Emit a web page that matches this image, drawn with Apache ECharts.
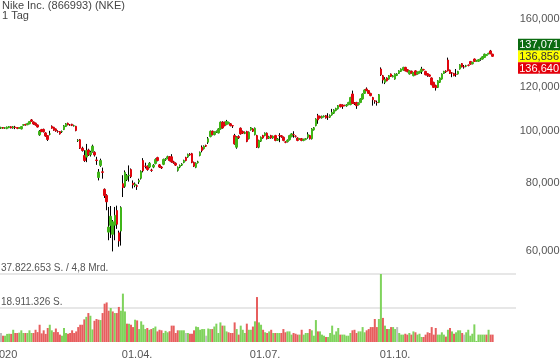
<!DOCTYPE html>
<html><head><meta charset="utf-8">
<script src="https://cdn.jsdelivr.net/npm/echarts@6/dist/echarts.min.js"></script>
<style>html,body{margin:0;padding:0;background:#fff}#c{width:560px;height:363px}</style>
</head><body><div id="c"></div>
<script>
const titleText = 'Nike Inc. (866993) (NKE)';
const subtitleText = '1 Tag';
const startDate = '2019-12-24';
const slotCount = 254;
const holidays = ['2019-12-25','2020-01-01','2020-01-20','2020-02-17','2020-04-10','2020-05-25','2020-07-03','2020-09-07','2020-11-26','2020-12-25'];
const tickDates = ['2019-12-27','2020-04-01','2020-07-01','2020-10-01'];
const tickLabels = ['2020','01.04.','01.07.','01.10.'];
const priceTicks = [60,80,100,120,140,160];
const quoteValues = [137.071,136.856,136.640];
const volumeAxisMax = 37.822653; // Mio. Stück
const volumeLabels = ['37.822.653 S. / 4,8 Mrd.','18.911.326 S.'];

const open = [101.0,101.3,101.0,100.8,101.2,101.6,101.1,101.5,101.3,100.9,100.7,102.3,102.6,102.5,102.9,104.6,103.7,103.2,102.4,98.2,
100.4,100.5,99.0,97.9,98.5,101.8,101.4,100.7,99.6,99.6,99.5,100.4,101.7,103.1,102.4,102.7,102.0,101.8,95.8,96.2,
92.8,90.0,89.4,92.1,90.3,91.5,91.2,88.3,82.0,86.3,84.0,78.0,76.0,65.1,67.0,64.5,67.0,71.3,64.9,65.4,
79.9,79.0,81.3,82.6,84.8,80.0,79.3,79.2,80.5,81.7,88.1,86.0,85.9,85.7,84.6,85.7,87.0,89.2,86.5,85.7,
86.7,88.5,88.9,89.5,89.5,87.6,87.1,84.5,85.7,86.4,87.4,89.2,89.4,90.5,90.7,87.4,85.6,87.3,90.0,93.2,
92.6,93.9,95.2,97.5,99.7,98.3,99.4,99.0,100.7,103.6,103.6,102.6,103.0,102.9,102.1,97.9,93.2,97.5,101.0,99.6,
98.8,99.6,96.6,100.3,100.7,98.3,97.9,93.2,95.6,97.9,97.9,98.9,96.8,97.9,96.9,97.9,96.0,97.9,97.8,97.2,
95.3,95.4,96.2,97.5,98.3,97.6,96.9,96.4,96.6,95.9,96.3,97.2,97.9,96.6,100.3,102.1,106.5,106.2,105.5,106.0,
106.5,105.9,105.8,106.8,107.6,108.8,109.6,111.6,111.4,111.2,111.0,111.6,111.6,116.7,112.4,112.6,111.6,112.6,114.3,117.0,
119.2,118.4,117.0,115.0,113.4,112.6,112.6,129.7,126.1,122.6,124.9,124.3,127.0,125.5,124.3,126.2,127.3,128.4,129.1,130.6,
129.3,127.0,128.5,126.1,128.7,127.0,127.6,128.4,129.4,128.4,127.2,126.5,124.9,122.6,121.0,120.0,122.6,124.3,127.3,128.6,
134.7,129.1,127.6,127.3,126.8,127.0,129.7,132.7,130.9,131.2,131.8,133.9,132.6,135.3,134.2,134.0,135.2,135.3,136.2,137.3,
138.3,140.0,138.1];
const close = [101.3,101.0,101.2,101.5,101.7,101.1,101.6,101.3,100.9,101.2,101.7,102.5,102.4,103.0,103.9,104.0,102.8,102.4,101.5,99.7,
99.6,99.5,97.7,96.3,98.6,101.0,100.1,99.8,99.6,98.6,99.6,102.0,102.9,102.5,102.4,102.2,102.1,100.0,96.0,92.8,
91.9,88.1,91.9,90.2,91.2,93.6,90.2,88.1,83.9,88.1,83.8,76.0,74.0,66.5,69.6,68.0,69.9,67.3,62.7,72.2,
78.6,83.8,82.7,82.8,82.3,79.5,79.8,79.0,81.0,84.1,84.4,86.0,84.8,87.1,84.5,86.4,88.5,88.1,85.7,85.4,
88.5,88.6,89.5,88.1,87.6,87.3,86.4,85.6,86.3,86.8,88.1,88.1,90.4,90.2,87.4,86.0,87.1,87.6,91.2,91.9,
93.6,93.6,96.6,99.7,98.3,99.3,99.6,100.7,103.6,101.1,102.1,103.9,103.5,102.1,102.0,94.5,97.2,97.0,98.6,98.9,
99.2,95.5,99.3,101.2,99.7,101.0,93.2,95.9,97.2,96.9,98.9,96.6,97.4,96.9,97.6,95.9,96.5,97.9,97.4,95.9,
95.2,96.0,97.9,98.6,98.3,97.6,95.9,96.6,95.9,96.2,96.6,98.3,96.6,100.7,101.2,105.0,104.6,105.5,106.2,106.3,
105.5,105.9,106.6,108.0,109.1,109.8,111.1,110.6,110.8,111.2,111.4,112.6,115.0,112.2,112.0,111.1,112.2,114.3,116.7,118.7,
118.4,117.0,115.9,113.9,113.2,112.6,116.4,126.6,123.8,124.3,123.4,126.1,125.7,126.0,127.0,127.0,128.7,129.7,130.6,128.7,
128.2,128.7,127.5,127.8,126.6,128.0,128.4,129.7,129.3,126.6,126.3,125.8,121.4,120.0,119.8,123.4,124.9,127.0,128.4,128.2,
128.7,127.3,127.5,126.1,126.8,128.4,132.0,130.9,130.9,131.5,131.7,132.4,133.4,133.9,134.3,134.9,135.3,136.6,138.1,137.9,
138.6,138.3,136.856];
const high = [101.6,101.5,101.4,101.7,101.9,101.8,101.9,102.0,101.5,101.4,101.9,102.8,102.9,103.3,104.1,105.0,103.9,103.4,102.6,100.2,
100.7,100.8,99.3,98.1,99.9,102.2,101.6,100.9,100.1,99.8,100.0,102.3,103.2,103.4,102.8,102.9,102.5,102.0,96.4,96.5,
93.4,92.0,94.5,92.6,91.8,94.2,91.6,89.5,85.0,88.8,85.5,78.3,76.4,72.4,72.7,68.5,72.4,72.8,65.5,72.6,
82.8,84.5,83.2,86.3,85.2,81.0,80.3,79.6,81.6,84.5,89.0,87.3,86.3,87.5,85.1,86.8,88.9,89.5,86.8,86.0,
88.8,89.0,89.9,89.8,90.5,88.0,87.4,85.9,86.6,87.1,88.4,89.5,90.7,90.9,91.0,87.7,87.4,88.0,91.5,93.9,
93.9,94.2,97.3,100.0,100.0,99.6,100.0,101.0,103.9,104.0,103.8,104.6,103.8,103.2,102.2,98.6,97.6,98.0,101.3,100.0,
99.6,99.9,99.6,101.5,101.0,101.3,98.2,96.2,97.5,98.2,99.2,99.2,97.8,98.2,97.9,98.2,96.9,98.9,98.1,97.5,
95.6,96.3,98.2,98.9,99.7,98.0,97.2,96.9,96.9,96.6,96.9,99.3,98.2,101.0,101.5,105.3,107.3,106.5,106.5,106.6,
106.8,107.6,107.0,109.6,109.4,110.1,111.4,111.9,111.7,111.5,111.8,112.9,115.3,118.4,112.8,112.9,112.6,114.6,117.0,119.0,
120.0,118.7,117.3,115.3,113.7,113.5,116.7,130.6,126.5,125.3,125.2,126.4,127.3,126.4,127.3,127.4,129.0,130.0,130.9,130.9,
129.6,129.0,128.8,128.1,129.0,128.3,128.7,130.9,129.8,128.7,127.5,126.8,125.2,122.9,121.4,123.7,125.2,127.3,128.7,129.0,
136.1,129.4,128.0,127.6,129.7,128.7,132.3,133.0,131.9,132.0,132.2,134.2,133.7,135.6,134.8,135.2,136.0,136.9,138.4,138.2,
138.9,140.6,138.3];
const low = [100.7,100.8,100.7,100.6,101.0,100.9,100.8,100.6,100.6,100.7,100.5,102.0,102.1,102.3,102.7,103.8,102.5,102.1,101.3,97.8,
99.3,99.2,97.4,95.7,98.0,100.8,99.9,99.5,99.1,98.3,99.0,100.2,101.5,102.2,102.0,101.9,101.7,99.7,95.3,92.5,
91.5,87.6,87.5,89.8,89.6,91.1,89.6,86.5,81.0,85.8,81.6,75.2,71.4,62.9,63.5,60.0,62.9,66.0,61.2,61.5,
75.5,78.5,80.8,80.6,81.8,78.3,78.7,77.8,79.8,81.3,83.8,85.2,84.4,85.3,84.0,85.3,86.7,87.8,85.4,85.0,
86.4,88.0,88.6,87.8,87.3,86.9,86.1,84.1,85.3,86.1,87.1,87.8,89.1,89.9,87.1,85.7,85.3,87.0,89.7,91.2,
92.3,93.3,94.5,97.2,98.0,98.0,99.0,98.8,100.4,100.8,101.8,102.3,102.7,101.8,101.1,94.2,92.6,96.5,98.3,98.6,
98.5,95.2,96.3,100.0,99.4,98.0,92.9,92.8,95.3,96.6,97.6,96.3,96.5,96.6,96.6,95.6,95.7,95.2,97.0,95.6,
94.8,95.1,95.9,97.2,97.0,97.1,95.6,96.1,95.6,95.6,96.0,96.6,96.3,96.3,100.0,101.8,102.9,105.2,105.2,105.7,
105.2,104.6,105.5,106.5,107.3,108.5,109.3,110.3,109.6,110.8,110.6,111.3,111.3,111.9,111.4,109.6,111.2,112.3,114.0,116.7,
118.1,116.7,115.6,111.1,112.0,111.1,112.3,126.0,122.0,121.7,123.1,124.0,125.4,125.2,124.0,125.9,127.0,128.1,128.8,128.4,
127.9,126.7,127.2,125.8,126.3,126.7,127.3,127.0,128.9,126.3,125.5,125.4,121.1,119.7,118.4,119.7,122.3,124.0,127.0,127.6,
128.4,127.0,125.3,125.8,125.5,126.7,129.4,130.6,129.9,130.7,131.2,132.1,132.3,133.6,133.8,133.7,134.3,135.0,135.9,137.0,
138.0,138.1,136.6];
const volume = [5.0,3.5,3.5,4.5,4.6,4.5,6.8,5.0,5.0,5.2,6.5,5.0,5.0,5.0,6.5,5.0,5.0,6.8,5.5,9.6,
4.8,6.5,4.5,7.8,9.6,6.5,5.5,7.5,5.5,4.1,3.5,7.8,5.0,4.6,5.0,6.5,5.0,5.9,8.3,9.6,
9.6,12.6,14.0,16.1,14.6,7.0,11.8,12.8,12.4,12.2,16.1,21.3,22.0,17.4,18.9,17.0,16.1,16.1,19.5,17.4,
26.9,17.0,10.2,10.2,9.6,8.3,12.4,12.0,7.2,11.5,9.6,7.2,7.8,6.8,7.2,7.8,8.6,5.9,6.8,6.5,
5.0,6.2,5.4,6.0,9.1,9.1,5.0,6.5,6.5,6.5,6.5,5.0,5.0,4.6,4.6,6.5,8.6,8.3,6.8,7.2,
7.2,3.5,7.5,7.2,7.2,8.6,10.2,5.0,10.9,9.1,9.1,5.9,5.4,5.0,5.0,10.9,7.2,4.1,9.1,6.8,
5.0,10.2,6.8,6.8,8.6,11.5,25.0,10.9,9.6,6.8,5.4,5.0,5.9,6.8,5.0,5.0,5.0,5.0,5.0,7.2,
5.4,5.9,5.9,4.1,5.0,4.6,4.1,4.1,6.8,4.1,5.0,5.0,7.2,6.5,3.5,12.2,5.9,5.9,4.1,3.5,
2.8,2.8,5.0,9.1,4.1,5.9,7.8,4.1,4.1,4.1,3.5,3.5,5.0,6.5,6.8,5.0,5.9,5.9,8.3,5.4,
6.5,7.2,8.3,8.3,12.8,8.3,12.8,37.822653,13.4,9.1,7.2,7.2,8.3,8.3,7.2,8.3,5.0,4.1,4.1,4.6,
4.1,5.0,4.1,5.9,5.4,4.1,4.6,2.8,2.8,4.1,5.4,5.0,8.3,4.1,7.8,4.1,4.1,5.4,4.1,3.0,
6.8,7.8,5.9,4.6,5.4,6.5,6.5,5.0,4.1,5.4,6.8,3.5,4.6,9.8,0.6,4.1,4.1,4.1,4.1,4.1,
6.8,4.1,4.1];

const FONT = '"Liberation Sans", Arial, sans-serif';
const UP = '#3fb519', DOWN = '#e1060e', WICK = '#000000';
const VUP = '#7fd35c', VDOWN = '#e75e5e', VFLAT = '#bdbdbd';

// trading-day categories
const dates = [];
{
  const d = new Date(startDate + 'T00:00:00Z');
  while (dates.length < slotCount) {
    const s = d.toISOString().slice(0, 10);
    const wd = d.getUTCDay();
    if (wd !== 0 && wd !== 6 && !holidays.includes(s)) dates.push(s);
    d.setUTCDate(d.getUTCDate() + 1);
  }
}

const wickData = open.map((o, i) => [o, close[i], low[i], high[i]]);
const bodyData = open.map((o, i) => [o, close[i], Math.min(o, close[i]), Math.max(o, close[i])]);
const volData = volume.map((v, i) => {
  let c = VFLAT;
  if (i > 0 && close[i] > close[i - 1]) c = VUP;
  else if (i > 0 && close[i] < close[i - 1]) c = VDOWN;
  return { value: v, itemStyle: { color: c } };
});

const chart = echarts.init(document.getElementById('c'), null, { renderer: 'canvas' });
chart.setOption({
  animation: false,
  backgroundColor: '#fff',
  grid: [
    { left: 0, right: 44, top: 5, height: 267 },
    { left: 0, right: 44, top: 274, height: 68 }
  ],
  xAxis: [
    { type: 'category', gridIndex: 0, data: dates, boundaryGap: true, show: false },
    {
      type: 'category', gridIndex: 1, data: dates, boundaryGap: true,
      axisLine: { show: false }, axisTick: { show: false }, splitLine: { show: false },
      axisLabel: { show: false }
    }
  ],
  yAxis: [
    { type: 'log', logBase: 10, gridIndex: 0, min: 55, max: 170, show: false },
    {
      type: 'value', gridIndex: 1, min: 0, max: volumeAxisMax, interval: volumeAxisMax / 2,
      axisLine: { show: false }, axisTick: { show: false }, axisLabel: { show: false },
      splitLine: { show: true, showMinLine: false, showMaxLine: true, lineStyle: { color: '#dfdfdf', width: 1.5 } }
    }
  ],
  series: [
    {
      type: 'candlestick', xAxisIndex: 0, yAxisIndex: 0, data: wickData, barWidth: 1, z: 2,
      itemStyle: { color: WICK, color0: WICK, borderColor: WICK, borderColor0: WICK, borderColorDoji: WICK, borderWidth: 1 },
      emphasis: { disabled: true }
    },
    {
      type: 'candlestick', xAxisIndex: 0, yAxisIndex: 0, data: bodyData, barWidth: 2, z: 3,
      itemStyle: { color: UP, color0: DOWN, borderColor: UP, borderColor0: DOWN, borderColorDoji: DOWN, borderWidth: 1 },
      emphasis: { disabled: true }
    },
    {
      type: 'bar', xAxisIndex: 1, yAxisIndex: 1, data: volData, barWidth: 2, barGap: '0%',
      emphasis: { disabled: true }
    }
  ]
});

// texts placed through the axes' own scales
const g = [];
g.push({ type: 'text', x: 2, y: 0, style: { text: titleText, font: '11px ' + FONT, fill: '#444', align: 'left', verticalAlign: 'top' } });
g.push({ type: 'text', x: 2, y: 10, style: { text: subtitleText, font: '11px ' + FONT, fill: '#444', align: 'left', verticalAlign: 'top' } });
priceTicks.forEach(v => {
  const y = chart.convertToPixel({ yAxisIndex: 0 }, v);
  g.push({ type: 'text', x: 559.5, y: y, z: 10, style: { text: v.toFixed(3).replace('.', ','), font: '11px ' + FONT, fill: '#555', align: 'right', verticalAlign: 'middle' } });
});
const qy = chart.convertToPixel({ yAxisIndex: 0 }, quoteValues[1]);
const boxH = 11.7;
const boxStyles = [
  { bg: '#0b6b10', fg: '#ffffff', off: -boxH },
  { bg: '#ffff00', fg: '#333333', off: 0 },
  { bg: '#e3000b', fg: '#ffffff', off: boxH }
];
quoteValues.forEach((v, i) => {
  const cy = qy + boxStyles[i].off;
  g.push({ type: 'rect', z: 20, shape: { x: 518, y: cy - boxH / 2, width: 42, height: boxH }, style: { fill: boxStyles[i].bg } });
  g.push({ type: 'text', z: 21, x: 559, y: cy + 0.5, style: { text: v.toFixed(3).replace('.', ','), font: '11px ' + FONT, fill: boxStyles[i].fg, align: 'right', verticalAlign: 'middle' } });
});
[volumeAxisMax, volumeAxisMax / 2].forEach((v, i) => {
  const y = chart.convertToPixel({ yAxisIndex: 1 }, v);
  g.push({ type: 'text', x: 1, y: y - 0.5, z: 10, style: { text: volumeLabels[i], font: '10px ' + FONT, fill: '#555', align: 'left', verticalAlign: 'bottom' } });
});
const axisBottom = chart.convertToPixel({ yAxisIndex: 1 }, 0);
tickDates.forEach((d, i) => {
  const x = chart.convertToPixel({ xAxisIndex: 1 }, d);
  g.push({ type: 'text', x: x, y: axisBottom + 7, z: 10, style: { text: tickLabels[i], font: '11px ' + FONT, fill: '#555', align: 'center', verticalAlign: 'top' } });
});
chart.setOption({ graphic: g });
</script>
</body></html>
